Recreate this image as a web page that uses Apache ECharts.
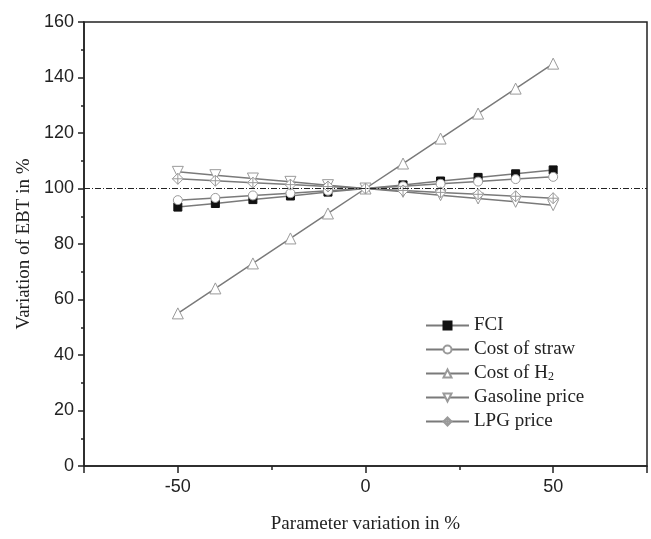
<!DOCTYPE html>
<html lang="en">
<head>
  <meta charset="UTF-8">
  <title>EBT sensitivity</title>
</head>
<body style="margin:0;">
  <div id="chart" style="width: 651px; height: 539px;"></div>
</body>

<script src="https://cdn.jsdelivr.net/npm/echarts@6/dist/echarts.min.js"></script>

<script>
  const myChart = echarts.init(document.getElementById('chart'));

  // parameter variation (%)
  const variation = [-50, -40, -30, -20, -10, 0, 10, 20, 30, 40, 50];

  // variation of EBT (%)
  const fci      = [93.3, 94.6, 96.0, 97.3, 98.7, 100, 101.3, 102.7, 104.0, 105.3, 106.7];
  const straw    = [95.8, 96.6, 97.5, 98.3, 99.2, 100, 100.8, 101.7, 102.5, 103.4, 104.2];
  const costH2   = [55, 64, 73, 82, 91, 100, 109, 118, 127, 136, 145];
  const gasoline = [106.0, 104.8, 103.6, 102.4, 101.2, 100, 98.8, 97.6, 96.4, 95.2, 94.0];
  const lpg      = [103.5, 102.8, 102.1, 101.4, 100.7, 100, 99.3, 98.6, 97.9, 97.2, 96.5];

  const yTicks = [0, 20, 40, 60, 80, 100, 120, 140, 160];
  const xLabels = [-50, 0, 50];

  const pairs = vals => variation.map((x, i) => [x, vals[i]]);

  const lineGray = '#7a7a7a';
  const markGray = '#9a9a9a';
  const serif = '"Liberation Serif", "DejaVu Serif", serif';
  const sans = '"Liberation Sans", Arial, sans-serif';

  const diamondCross = 'path://M0,-10 L10,0 L0,10 L-10,0 Z M0,-10 L0,10 M-10,0 L10,0';

  function makeSeries(name, vals, symbol, size, fill, extra) {
    return Object.assign({
      name: name,
      type: 'line',
      data: pairs(vals),
      symbol: symbol,
      symbolSize: size,
      showAllSymbol: true,
      lineStyle: { color: lineGray, width: 1.5 },
      itemStyle: { color: fill, borderColor: fill === '#111' ? '#111' : markGray, borderWidth: 1 },
      emphasis: { disabled: true },
      animation: false
    }, extra || {});
  }

  const option = {
    backgroundColor: '#fff',
    grid: {
      left: 84,
      right: 4,
      top: 22,
      bottom: 68,
      show: true,
      borderColor: '#222',
      borderWidth: 1.5
    },
    legend: {
      orient: 'vertical',
      left: 420,
      top: 311,
      itemWidth: 43,
      itemHeight: 10,
      itemGap: 5,
      textStyle: {
        fontFamily: serif,
        fontSize: 19,
        color: '#222',
        rich: {
          sub: { fontFamily: serif, fontSize: 12, color: '#222', padding: [7, 0, 0, 0] }
        }
      },
      formatter: function (name) {
        return name === 'Cost of H2' ? 'Cost of H{sub|2}' : name;
      },
      data: ['FCI', 'Cost of straw', 'Cost of H2', 'Gasoline price', 'LPG price']
    },
    xAxis: [
      {
        type: 'value',
        min: -75,
        max: 75,
        interval: 25,
        name: 'Parameter variation in %',
        nameLocation: 'middle',
        nameGap: 49,
        nameTextStyle: { fontFamily: serif, fontSize: 19, color: '#222' },
        axisLine: { show: true, onZero: false, lineStyle: { color: '#222', width: 1.5 } },
        axisTick: { show: true, inside: false, length: 4, lineStyle: { color: '#222', width: 1.5 } },
        axisLabel: { show: false },
        splitLine: { show: false }
      },
      {
        type: 'value',
        position: 'bottom',
        min: -75,
        max: 75,
        splitNumber: 3,
        axisLine: { show: false, onZero: false },
        axisTick: { show: true, inside: false, length: 7, lineStyle: { color: '#222', width: 1.5 } },
        axisLabel: {
          show: true,
          margin: 12,
          fontFamily: sans,
          fontSize: 18,
          color: '#222',
          formatter: function (v) { return xLabels.indexOf(v) >= 0 ? String(v) : ''; }
        },
        splitLine: { show: false }
      }
    ],
    yAxis: {
      type: 'value',
      min: yTicks[0],
      max: yTicks[yTicks.length - 1],
      interval: 20,
      name: 'Variation of EBT in %',
      nameLocation: 'middle',
      nameGap: 46,
      nameTextStyle: { fontFamily: serif, fontSize: 19, color: '#222' },
      axisLine: { show: true, onZero: false, lineStyle: { color: '#222', width: 1.5 } },
      axisTick: { show: true, inside: false, length: 6, lineStyle: { color: '#222', width: 1.5 } },
      minorTick: { show: true, splitNumber: 2, length: 3, lineStyle: { color: '#222', width: 1.5 } },
      axisLabel: { margin: 10, fontFamily: sans, fontSize: 18, color: '#222' },
      splitLine: { show: false }
    },
    series: [
      makeSeries('FCI', fci, 'rect', 8, '#111', {
        markLine: {
          silent: true,
          symbol: ['none', 'none'],
          label: { show: false },
          lineStyle: { color: '#222', width: 1, type: [6, 2, 1, 2] },
          data: [{ yAxis: 100 }],
          animation: false
        }
      }),
      makeSeries('Cost of straw', straw, 'circle', 9, '#fff'),
      makeSeries('Cost of H2', costH2, 'triangle', 11, '#fff'),
      makeSeries('Gasoline price', gasoline, 'triangle', 11, '#fff', { symbolRotate: 180 }),
      makeSeries('LPG price', lpg, diamondCross, 11, '#fff')
    ]
  };

  myChart.setOption(option);
</script>

</html>
